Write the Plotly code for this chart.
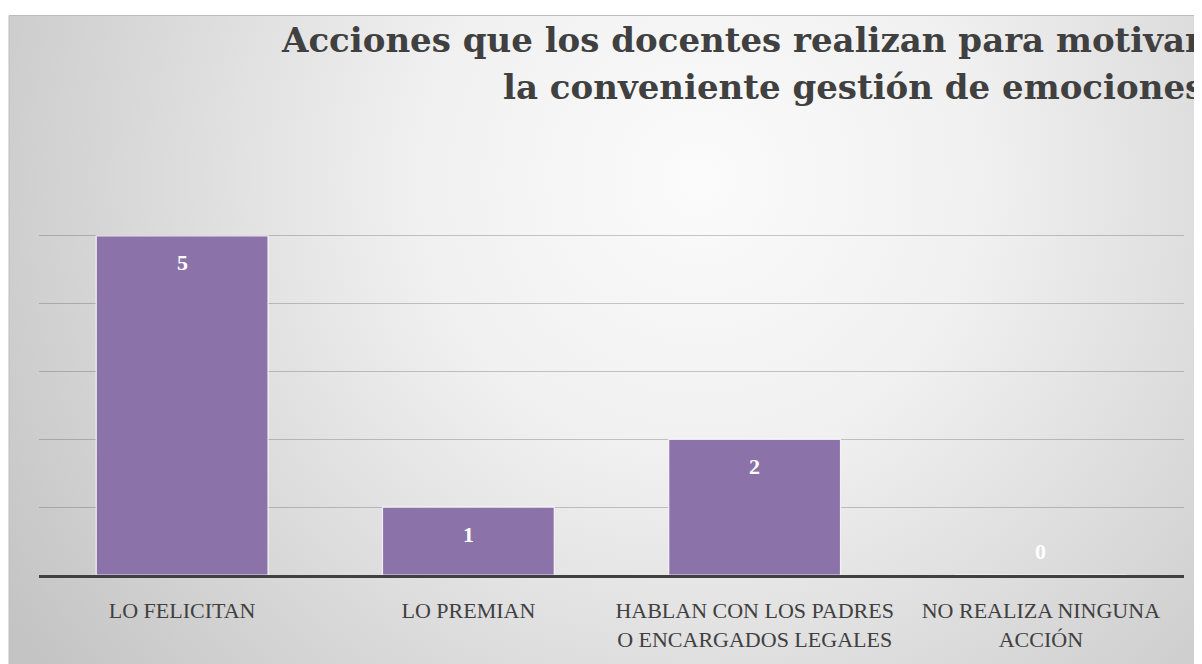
import base64
import plotly.graph_objects as go

categories = ["LO FELICITAN", "LO PREMIAN", "HABLAN CON LOS PADRES<br>O ENCARGADOS LEGALES",
              "NO REALIZA NINGUNA<br>ACCIÓN"]
values = [5, 1, 2, 0]
title_lines = ["Acciones que los docentes realizan para motivar",
               "la conveniente gestión de emociones"]

OFF = 8  # page body margin offset
W_FIG, H_FIG = 1202 - OFF, 664 - OFF
# plot area in reference (window) pixels
PL, PR, PT, PB = 39, 1184, 168, 579
L = PL - OFF
R = W_FIG - (PR - OFF)
T = PT - OFF
B = H_FIG - (PB - OFF)
PW = PR - PL
PH = PB - PT


def px(x):
    return (x - PL) / PW


def py(y):
    return (PB - y) / PH


svg = """<svg xmlns='http://www.w3.org/2000/svg' width='1210' height='660' viewBox='0 0 1210 660' preserveAspectRatio='none'>
<defs><radialGradient id='g' cx='690' cy='165' r='820' gradientUnits='userSpaceOnUse'>
<stop offset='0' stop-color='#fbfbfb'/><stop offset='0.35' stop-color='#f0f0f0'/>
<stop offset='0.7' stop-color='#d8d8d8'/><stop offset='1' stop-color='#c4c4c4'/>
</radialGradient></defs>
<rect x='0' y='0' width='1210' height='660' fill='url(#g)'/></svg>"""
src = "data:image/svg+xml;base64," + base64.b64encode(svg.encode()).decode()

fig = go.Figure()
fig.add_trace(go.Bar(
    x=categories, y=values, width=0.6,
    marker=dict(color="#8b73a9", line=dict(color="rgba(255,255,255,0.8)", width=1.2)),
    hoverinfo="skip",
))

annotations = []
for c, v in zip(categories, values):
    annotations.append(dict(
        x=c, y=v, xref="x", yref="y", text=f"<b>{v}</b>", showarrow=False,
        yshift=-27 if v > 0 else 24,
        font=dict(family="Liberation Serif", size=22, color="white"),
    ))

for txt, yc in zip(title_lines, [39, 86]):
    annotations.append(dict(
        x=px(1206), y=py(yc), xref="paper", yref="paper", xanchor="right", yanchor="middle",
        text="<b>" + txt + "</b>", showarrow=False, align="right",
        font=dict(family="DejaVu Serif", size=34, color="#404040"),
    ))

fig.update_layout(
    width=W_FIG, height=H_FIG,
    margin=dict(l=L, r=R, t=T, b=B),
    paper_bgcolor="white", plot_bgcolor="rgba(0,0,0,0)",
    showlegend=False,
    images=[dict(source=src, xref="paper", yref="paper", x=px(9), y=py(14),
                 sizex=px(1219) - px(9), sizey=py(14) - py(674), sizing="stretch",
                 xanchor="left", yanchor="top", layer="below")],
    shapes=[dict(type="rect", xref="paper", yref="paper", x0=px(9), x1=px(1230),
                 y0=py(690), y1=py(14), line=dict(color="#bdbdbd", width=1),
                 fillcolor="rgba(0,0,0,0)", layer="below")],
    annotations=annotations,
    xaxis=dict(
        showline=True, linecolor="#404040", linewidth=3,
        ticks="outside", ticklen=14, tickcolor="rgba(0,0,0,0)",
        tickfont=dict(family="Liberation Serif", size=22, color="#404040"),
        showgrid=False,
    ),
    yaxis=dict(
        range=[0, 6], dtick=1, showticklabels=False, showgrid=True,
        gridcolor="rgba(70,70,70,0.28)", gridwidth=1, zeroline=False, showline=False,
    ),
)

fig.write_html("out.html")
